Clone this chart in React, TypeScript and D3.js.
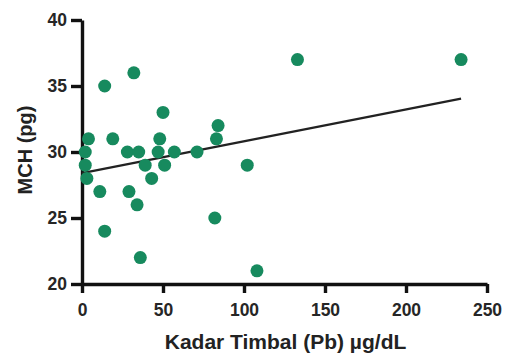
import React, { useEffect, useRef } from 'react';
import * as d3 from 'd3';

const leadValues = [2, 2, 3, 4, 14, 32, 50, 19, 28, 35, 39, 48, 47, 51, 57, 71, 84, 83, 102, 11, 29, 34, 43, 14, 36, 82, 108, 133, 234];
const mchValues = [30, 29, 28, 31, 35, 36, 33, 31, 30, 30, 29, 31, 30, 29, 30, 30, 32, 31, 29, 27, 27, 26, 28, 24, 22, 25, 21, 37, 37];
const xTicks = [0, 50, 100, 150, 200, 250];
const yTicks = [20, 25, 30, 35, 40];
// fitted line
const fitIntercept = 28.4;
const fitSlope = 0.0241;

export default function App() {
  const svgRef = useRef<SVGSVGElement>(null);
  const width = 509;
  const height = 358;

  useEffect(() => {
    if (!svgRef.current) return;
    d3.select(svgRef.current).selectAll('*').remove();

    const margin = { top: 20, right: 22, bottom: 74, left: 82 };
    const chartWidth = width - margin.left - margin.right;
    const chartHeight = height - margin.top - margin.bottom;

    const svg = d3
      .select(svgRef.current)
      .append('g')
      .attr('transform', `translate(${margin.left}, ${margin.top})`);

    const xScale = d3.scaleLinear().domain([0, 250]).range([0, chartWidth]);
    const yScale = d3.scaleLinear().domain([20, 40]).range([chartHeight, 0]);

    const font = '"Liberation Sans", Arial, sans-serif';

    // X-axis
    const xAxis = svg
      .append('g')
      .attr('transform', `translate(0, ${chartHeight})`)
      .call(d3.axisBottom(xScale).tickValues(xTicks).tickSize(9).tickPadding(11).tickSizeOuter(0));

    // Y-axis
    const yAxis = svg
      .append('g')
      .call(d3.axisLeft(yScale).tickValues(yTicks).tickSize(11).tickPadding(4).tickSizeOuter(0));

    [xAxis, yAxis].forEach(ax => {
      ax.select('.domain').style('stroke', '#111').style('stroke-width', '3.4px');
      ax.selectAll('.tick line').style('stroke', '#111').style('stroke-width', '3.4px');
      ax.selectAll('.tick text')
        .style('fill', '#262626')
        .style('font-size', '17.5px')
        .style('font-weight', 'bold')
        .style('font-family', font);
    });

    // Regression line
    const x0 = d3.min(leadValues)! - 2;
    const x1 = d3.max(leadValues)!;
    const line = d3
      .line<number>()
      .x(d => xScale(d))
      .y(d => yScale(fitIntercept + fitSlope * d));
    svg
      .append('path')
      .datum([Math.max(0, x0), x1])
      .attr('fill', 'none')
      .attr('stroke', '#222')
      .attr('stroke-width', 2.2)
      .attr('d', line);

    // Points
    svg
      .selectAll('.pt')
      .data(leadValues.map((v, i) => ({ x: v, y: mchValues[i] })))
      .enter()
      .append('circle')
      .attr('class', 'pt')
      .attr('cx', d => xScale(d.x))
      .attr('cy', d => yScale(d.y))
      .attr('r', 6.5)
      .attr('fill', '#178a5e');

    // X-axis label
    svg
      .append('text')
      .attr('x', chartWidth / 2 + 1)
      .attr('y', chartHeight + 65)
      .attr('text-anchor', 'middle')
      .style('fill', '#222')
      .style('font-size', '21px')
      .style('font-weight', 'bold')
      .style('font-family', font)
      .text('Kadar Timbal (Pb) µg/dL');

    // Y-axis label
    svg
      .append('text')
      .attr('transform', 'rotate(-90)')
      .attr('x', -130)
      .attr('y', -margin.left + 32)
      .attr('text-anchor', 'middle')
      .style('fill', '#222')
      .style('font-size', '20px')
      .style('font-weight', 'bold')
      .style('font-family', font)
      .text('MCH (pg)');
  }, []);

  return (
    <div style={{ position: 'absolute', left: 0, top: 0, background: '#fff' }}>
      <svg ref={svgRef} width={width} height={height} style={{ display: 'block' }}></svg>
    </div>
  );
}
